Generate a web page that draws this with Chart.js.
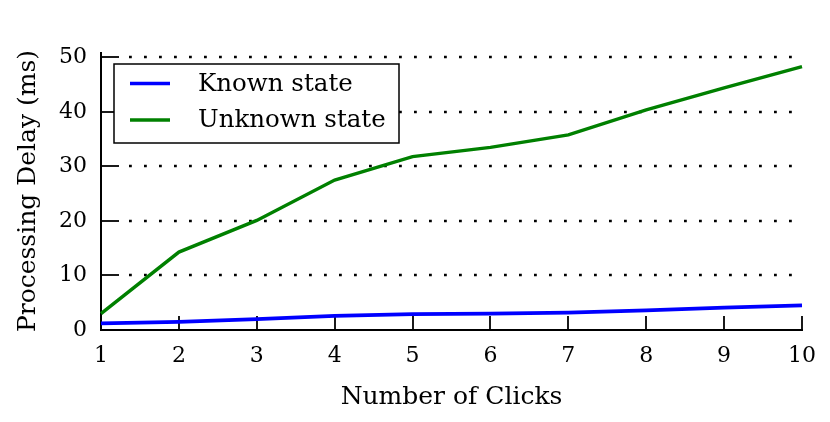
<!DOCTYPE html>
<html><head><meta charset="utf-8">
<script src="https://cdn.jsdelivr.net/npm/chart.js@4"></script>
<style>html,body{margin:0;padding:0;background:#fff}#wrap{width:830px;height:422px}</style>
</head><body><div id="wrap"><canvas id="c" width="830" height="422"></canvas></div>
<script>
const clicks = ['1','2','3','4','5','6','7','8','9','10'];
const knownState = [1.2, 1.5, 2.0, 2.6, 2.9, 3.0, 3.2, 3.6, 4.1, 4.5];
const unknownState = [3.0, 14.3, 20.1, 27.5, 31.8, 33.5, 35.8, 40.4, 44.4, 48.3];
const yTickValues = [0, 10, 20, 30, 40, 50];
const seriesLabels = ['Known state', 'Unknown state'];
const seriesColors = ['#0000ff', '#008000'];
const xTitle = 'Number of Clicks';
const yTitle = 'Processing Delay (ms)';

const FAMILY = '"DejaVu Serif", serif';

const decoPlugin = {
  id: 'deco',
  beforeDatasetsDraw(chart) {
    const {ctx, chartArea: a, scales: {x, y}} = chart;
    ctx.save();
    ctx.strokeStyle = '#000';
    // dotted grid lines
    ctx.lineWidth = 2.4;
    ctx.setLineDash([2.8, 12.2]);
    y.ticks.forEach(t => {
      if (t.value === 0) return;
      const py = Math.round(y.getPixelForValue(t.value));
      ctx.beginPath(); ctx.moveTo(a.left + 28, py); ctx.lineTo(a.right + 2, py); ctx.stroke();
    });
    ctx.setLineDash([]);
    // inward tick marks
    ctx.lineWidth = 1.8;
    y.ticks.forEach(t => {
      const py = Math.round(y.getPixelForValue(t.value));
      ctx.beginPath(); ctx.moveTo(a.left, py); ctx.lineTo(a.left + 18, py); ctx.stroke();
    });
    x.ticks.forEach((t, i) => {
      const px = Math.round(x.getPixelForTick(i));
      ctx.beginPath(); ctx.moveTo(px, a.bottom); ctx.lineTo(px, a.bottom - 14); ctx.stroke();
    });
    // spines
    ctx.lineWidth = 2;
    ctx.beginPath();
    ctx.moveTo(a.left, a.top); ctx.lineTo(a.left, a.bottom); ctx.lineTo(a.right + 1, a.bottom);
    ctx.stroke();
    ctx.restore();
  },
  afterDatasetsDraw(chart) {
    const {ctx, chartArea: a} = chart;
    const bx = a.left + 13, by = a.top + 12, bw = 285, bh = 79;
    ctx.save();
    ctx.fillStyle = '#fff';
    ctx.fillRect(bx, by, bw, bh);
    ctx.strokeStyle = '#000';
    ctx.lineWidth = 1.5;
    ctx.strokeRect(bx, by, bw, bh);
    ctx.font = '24.5px ' + FAMILY;
    ctx.textBaseline = 'middle';
    ctx.fillStyle = '#000';
    chart.data.datasets.forEach((ds, i) => {
      const cy = by + 19.5 + i * 36.5;
      ctx.strokeStyle = ds.borderColor;
      ctx.lineWidth = 3.5;
      ctx.beginPath(); ctx.moveTo(bx + 16, cy); ctx.lineTo(bx + 56, cy); ctx.stroke();
      ctx.fillText(ds.label, bx + 84, cy + 1);
    });
    ctx.restore();
  }
};

new Chart(document.getElementById('c'), {
  type: 'line',
  data: {
    labels: clicks,
    datasets: [
      {label: seriesLabels[0], data: knownState, borderColor: seriesColors[0], borderWidth: 3.8, pointRadius: 0, fill: false, tension: 0},
      {label: seriesLabels[1], data: unknownState, borderColor: seriesColors[1], borderWidth: 3.4, pointRadius: 0, fill: false, tension: 0}
    ]
  },
  plugins: [decoPlugin],
  options: {
    responsive: false,
    animation: false,
    events: [],
    layout: {padding: {left: 0, right: 28, top: 52, bottom: 0}},
    plugins: {legend: {display: false}, tooltip: {enabled: false}},
    scales: {
      x: {
        offset: false,
        grid: {display: false, drawTicks: false},
        border: {display: false},
        ticks: {color: '#000', font: {family: FAMILY, size: 22}, padding: 13, maxRotation: 0, autoSkip: false},
        title: {display: true, text: xTitle, color: '#000', font: {family: FAMILY, size: 25}, padding: {top: 0, bottom: 10}},
        afterFit(s) { s.height = 92; }
      },
      y: {
        min: 0, max: 51,
        afterBuildTicks(s) { s.ticks = yTickValues.map(v => ({value: v})); },
        grid: {display: false, drawTicks: false},
        border: {display: false},
        ticks: {color: '#000', font: {family: FAMILY, size: 22}, padding: 14},
        title: {display: true, text: yTitle, color: '#000', font: {family: FAMILY, size: 25}, padding: {top: 13, bottom: 0}},
        afterFit(s) { s.width = 101; }
      }
    }
  }
});
</script>
</body></html>
